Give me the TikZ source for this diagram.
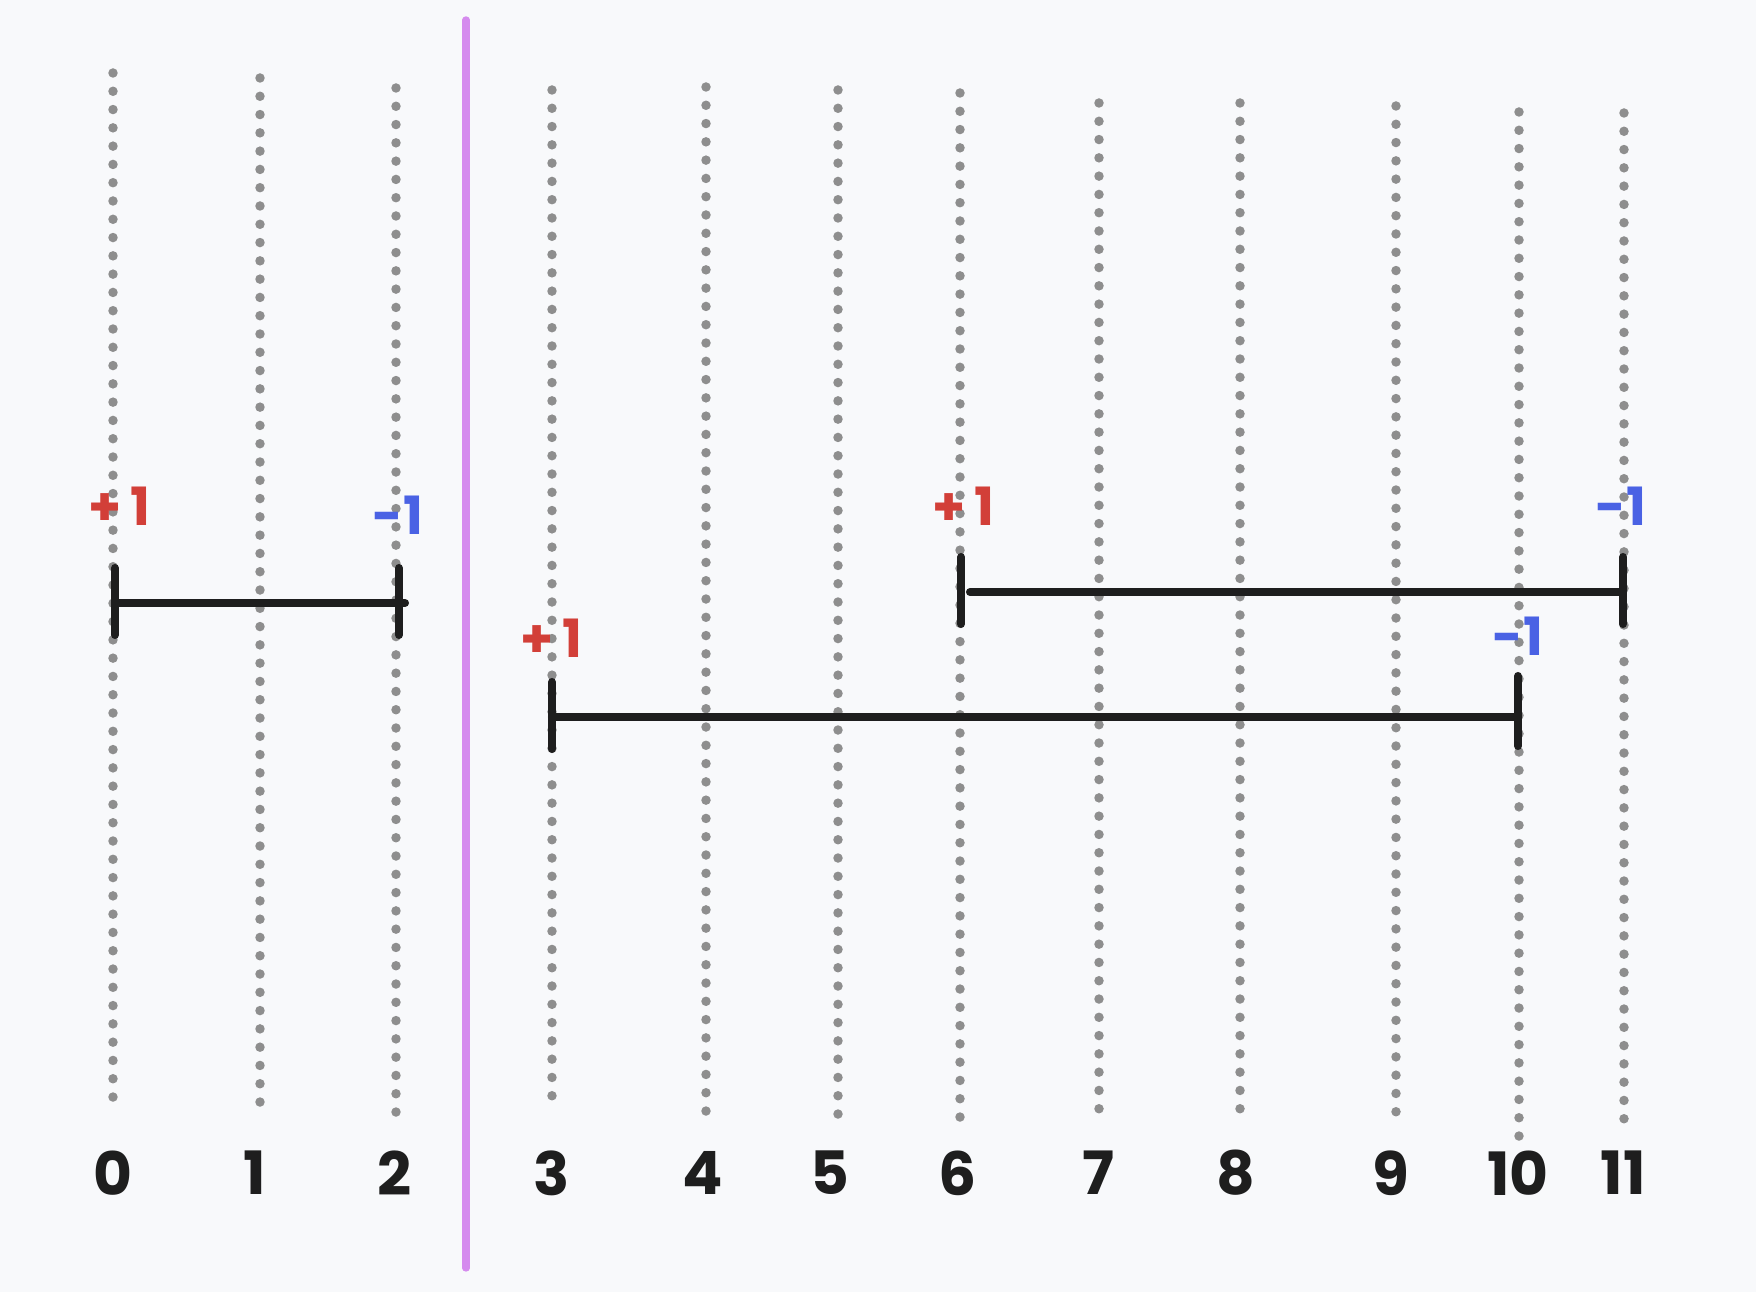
\documentclass[tikz,border=0pt]{standalone}
\usepackage{fontspec}
\setmainfont{Poppins}
\definecolor{bg}{HTML}{F8F9FB}
\definecolor{dotgray}{HTML}{8E8E8E}
\definecolor{ink}{HTML}{1E1E1E}
\definecolor{plus}{HTML}{D23F38}
\definecolor{minus}{HTML}{4A62E4}
\definecolor{divider}{HTML}{D58BEE}
\begin{document}
\begin{tikzpicture}[x=0.01cm,y=-0.01cm,
  grid/.style={draw=dotgray,line width=2.7pt,line cap=round,dash pattern=on 0pt off 5.2pt},
  tick/.style={draw=ink,line width=2.3pt,line cap=round},
  bar/.style={draw=ink,line width=2.3pt,line cap=round},
  num/.style={text=ink,font=\fontsize{17}{20}\selectfont\bfseries,inner sep=0pt},
  plab/.style={text=plus,font=\fontsize{15}{18}\selectfont\bfseries,inner sep=0pt},
  mlab/.style={text=minus,font=\fontsize{15}{18}\selectfont\bfseries,inner sep=0pt}]
\fill[bg] (0,0) rectangle (1756,1292);
\useasboundingbox (0,0) rectangle (1756,1292);
% dotted grid lines
\foreach \i/\x/\t/\b in {0/113/73/1114, 1/260/78/1114, 2/396/88/1114, 3/552/90/1114,
  4/706/87/1117, 5/838/90/1121, 6/960/93/1131, 7/1099/103/1123, 8/1240/103/1123,
  9/1396/106/1129, 10/1519/112/1137, 11/1624/113/1137}{
  \coordinate (t\i) at (\x,\t);
  \coordinate (b\i) at (\x,\b);
  \draw[grid] (t\i) -- (b\i);
}
% divider
\coordinate (dtop) at (466,20);
\coordinate (dbot) at (466,1268);
\draw[divider,line width=2.1pt,line cap=round] (dtop) -- (dbot);
% axis numbers
\foreach \i/\x in {0/113,1/255,2/395,3/552,4/703,5/830,6/958,7/1098,8/1236,9/1391,10/1518,11/1623}{
  \node[num] (n\i) at (\x,1173) {\i};
}
% interval A: 0..2
\coordinate (a1t) at (115,568); \coordinate (a1b) at (115,635);
\coordinate (a2t) at (399,568); \coordinate (a2b) at (399,635);
\coordinate (a1m) at (115,603); \coordinate (a2m) at (405,603);
\draw[tick] (a1t) -- (a1b);
\draw[tick] (a2t) -- (a2b);
\draw[bar] (a1m) -- (a2m);
\node[plab] (ap) at (119,506) {+\,1};
\node[mlab] (am) at (398,515) {-1};
% interval B: 6..11
\coordinate (b1t) at (961,557); \coordinate (b1b) at (961,624);
\coordinate (b2t) at (1623,557); \coordinate (b2b) at (1623,624);
\coordinate (b1m) at (970,592); \coordinate (b2m) at (1623,592);
\draw[tick] (b1t) -- (b1b);
\draw[tick] (b2t) -- (b2b);
\draw[bar] (b1m) -- (b2m);
\node[plab] (bp) at (963,506) {+\,1};
\node[mlab] (bm) at (1621,506) {-1};
% interval C: 3..10
\coordinate (c1t) at (552,682); \coordinate (c1b) at (552,749);
\coordinate (c2t) at (1518,676); \coordinate (c2b) at (1518,746);
\coordinate (c1m) at (552,717); \coordinate (c2m) at (1518,717);
\draw[tick] (c1t) -- (c1b);
\draw[tick] (c2t) -- (c2b);
\draw[bar] (c1m) -- (c2m);
\node[plab] (cp) at (551,638) {+\,1};
\node[mlab] (cm) at (1518,636) {-1};
\end{tikzpicture}
\end{document}
